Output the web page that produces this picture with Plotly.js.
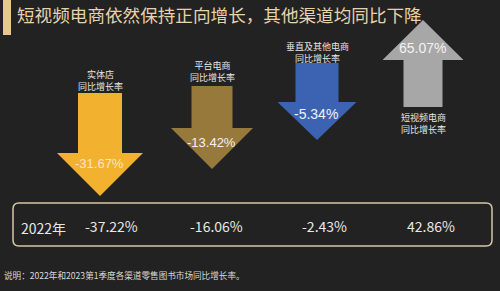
<!DOCTYPE html>
<html>
<head>
<meta charset="utf-8">
<script src="https://cdn.plot.ly/plotly-3.0.1.min.js"></script>
<style>html,body{margin:0;padding:0;background:#222222;}#chart{width:500px;height:291px;}</style>
</head>
<body>
<div id="chart"></div>
<script>
// ---- data ----
const titleText = '短视频电商依然保持正向增长，其他渠道均同比下降';
const channels = ['实体店', '平台电商', '垂直及其他电商', '短视频电商'];
const channelLabels = ['实体店<br>同比增长率', '平台电商<br>同比增长率', '垂直及其他电商<br>同比增长率', '短视频电商<br>同比增长率'];
const growth2023Q1 = [-31.67, -13.42, -5.34, 65.07];
const growth2022 = [-37.22, -16.06, -2.43, 42.86];
const rowLabel = '2022年';
const note = '说明：2022年和2023第1季度各渠道零售图书市场同比增长率。';

// ---- layout / style (not data) ----
const colors = ['#f2b22f', '#97793b', '#3c63b1', '#a7a7a7'];
const valueSizes = [13, 13, 14, 14];
const geo = [
  {cx: 100, sh: 22,   hh: 43,   start: 93,  head: 153, tip: 196, lab: 80,  val: 163, tab: 111},
  {cx: 212, sh: 20.5, hh: 41,   start: 86,  head: 128, tip: 169, lab: 71,  val: 142, tab: 216},
  {cx: 317, sh: 21.5, hh: 39.5, start: 63,  head: 102, tip: 140, lab: 52,  val: 114, tab: 324},
  {cx: 423, sh: 19.5, hh: 40.5, start: 107, head: 60,  tip: 20,  lab: 123, val: 48,  tab: 431}
];

function fmt(v) { return v.toFixed(2) + '%'; }

const traces = [];
const annotations = [];
channels.forEach((c, i) => {
  const g = geo[i];
  const xs = [g.cx - g.sh, g.cx + g.sh, g.cx + g.sh, g.cx + g.hh, g.cx, g.cx - g.hh, g.cx - g.sh, g.cx - g.sh];
  const ys = [g.start, g.start, g.head, g.head, g.tip, g.head, g.head, g.start];
  traces.push({
    type: 'scatter', mode: 'lines', x: xs, y: ys, fill: 'toself',
    fillcolor: colors[i], line: {width: 0, color: colors[i]}, hoverinfo: 'skip', name: c, showlegend: false
  });
  annotations.push({
    x: g.cx, y: g.lab, xref: 'x', yref: 'y', text: channelLabels[i], showarrow: false,
    font: {family: 'Noto Sans CJK SC', size: 9, color: '#e6e6e6'}, align: 'center'
  });
  annotations.push({
    x: g.cx - 1, y: g.val, xref: 'x', yref: 'y', text: fmt(growth2023Q1[i]), showarrow: false,
    font: {family: 'Liberation Sans, Arial', size: valueSizes[i], color: i === 0 ? '#fbe7c0' : '#f2f2f2'}
  });
  annotations.push({
    x: g.tab, y: 226, xref: 'x', yref: 'y', text: fmt(growth2022[i]), showarrow: false,
    font: {family: 'Noto Sans CJK SC', size: 14, color: '#e8e8e8'}
  });
});
annotations.push({
  x: 19, y: 228, xref: 'x', yref: 'y', xanchor: 'left', text: rowLabel, showarrow: false,
  font: {family: 'Noto Sans CJK SC', size: 14, color: '#e8e8e8'}
});
annotations.push({
  x: 2, y: 275, xref: 'x', yref: 'y', xanchor: 'left', text: note, showarrow: false,
  font: {family: 'Noto Sans CJK SC', size: 8.6, color: '#d9d9d9'}
});

// rounded table box
const bx0 = 13, bx1 = 492, by0 = 203, by1 = 246, r = 6;
const boxPath = `M ${bx0 + r},${by0} L ${bx1 - r},${by0} Q ${bx1},${by0} ${bx1},${by0 + r} L ${bx1},${by1 - r} Q ${bx1},${by1} ${bx1 - r},${by1} L ${bx0 + r},${by1} Q ${bx0},${by1} ${bx0},${by1 - r} L ${bx0},${by0 + r} Q ${bx0},${by0} ${bx0 + r},${by0} Z`;

const layout = {
  width: 500, height: 291,
  margin: {l: 0, r: 0, t: 0, b: 0},
  paper_bgcolor: '#222222', plot_bgcolor: '#222222',
  xaxis: {range: [0, 500], visible: false, fixedrange: true},
  yaxis: {range: [291, 0], visible: false, fixedrange: true},
  title: {
    text: titleText, x: 17 / 500, xanchor: 'left', y: 1 - 16 / 291, yanchor: 'middle',
    font: {family: 'Noto Sans CJK SC', size: 17.6, color: '#e7d3ab', weight: 'normal'}
  },
  shapes: [
    {type: 'rect', xref: 'x', yref: 'y', x0: 3, x1: 11, y0: 0, y1: 35, fillcolor: '#e8c68e', line: {width: 0}},
    {type: 'path', xref: 'x', yref: 'y', path: boxPath, line: {color: '#d6c6a4', width: 1.5}}
  ],
  annotations: annotations,
  showlegend: false
};

Plotly.newPlot('chart', traces, layout, {staticPlot: true, displayModeBar: false});
</script>
</body>
</html>
